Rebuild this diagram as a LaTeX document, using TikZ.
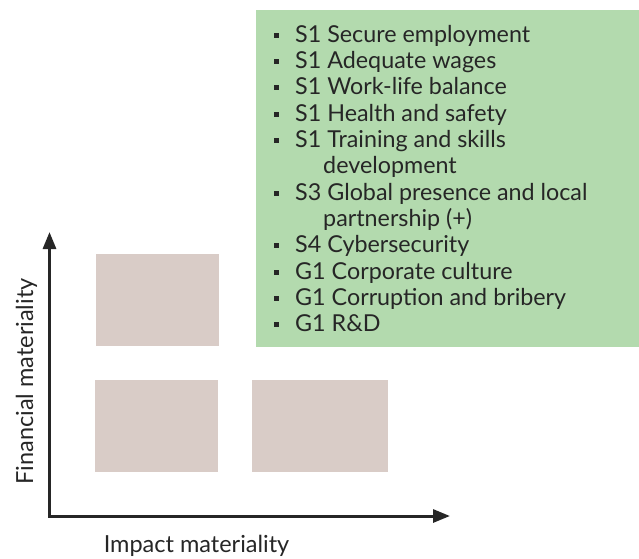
\documentclass[tikz,border=0pt]{standalone}
\usepackage{fontspec}
\setmainfont{Lato}
\usetikzlibrary{arrows.meta}
\definecolor{matgreen}{HTML}{B3DAAE}
\definecolor{boxbrown}{HTML}{D9CCC7}
\definecolor{txt}{HTML}{262626}
\tikzset{
  greenbox/.style={fill=matgreen, draw=none, inner sep=0pt, anchor=north west},
  quad/.style={fill=boxbrown, draw=none, inner sep=0pt, anchor=north west},
  itemtext/.style={anchor=base west, inner sep=0pt, text=txt, font=\fontsize{23.3}{26}\selectfont},
  bulletsq/.style={fill=txt, draw=none, inner sep=0pt, minimum size=5pt},
  axislabel/.style={inner sep=0pt, anchor=base, text=txt, font=\fontsize{23.5}{26}\selectfont},
  axisline/.style={line width=3pt, draw=txt, line join=miter,
    {Triangle[length=17pt,width=13pt]}-{Triangle[length=17pt,width=13pt]}}
}
\begin{document}
\begin{tikzpicture}[x=1pt,y=-1pt]
\useasboundingbox (0,0) rectangle (639,558);
\node[greenbox, minimum width=383pt, minimum height=337pt] (list) at (256,10) {};
\node[quad, minimum width=123pt, minimum height=92pt] (q1) at (96,254) {};
\node[quad, minimum width=123pt, minimum height=92pt] (q2) at (95,380) {};
\node[quad, minimum width=136pt, minimum height=92pt] (q3) at (252,380) {};
% list
\def\ls{26.36}
\node[itemtext] (t1) at (295,42) {S1 Secure employment};
\node[itemtext] (t2) at (295,42+\ls) {S1 Adequate wages};
\node[itemtext] (t3) at (295,42+2*\ls) {S1 Work-life balance};
\node[itemtext] (t4) at (295,42+3*\ls) {S1 Health and safety};
\node[itemtext] (t5) at (295,42+4*\ls) {S1 Training and skills};
\node[itemtext] (t5b) at (323,42+5*\ls) {development};
\node[itemtext] (t6) at (295,42+6*\ls) {S3 Global presence and local};
\node[itemtext] (t6b) at (323,42+7*\ls) {partnership (+)};
\node[itemtext] (t7) at (295,42+8*\ls) {S4 Cybersecurity};
\node[itemtext] (t8) at (295,42+9*\ls) {G1 Corporate culture};
\node[itemtext] (t9) at (295,42+10*\ls) {G1 Corruption and bribery};
\node[itemtext] (t10) at (295,42+11*\ls) {G1 R\&D};
\foreach \k/\n in {0/1,1/2,2/3,3/4,4/5,6/6,8/7,9/8,10/9,11/10}{
  \node[bulletsq] (b\n) at (276.5,35+\k*\ls) {};
}
% axes
\coordinate (ytip) at (49.5,232);
\coordinate (origin) at (49.5,516);
\coordinate (xtip) at (450,516);
\draw[axisline] (ytip) -- (origin) -- (xtip);
\node[axislabel, rotate=90] (fm) at (33,381.5) {Financial materiality};
\node[axislabel] (im) at (196.5,552) {Impact materiality};
\end{tikzpicture}
\end{document}
